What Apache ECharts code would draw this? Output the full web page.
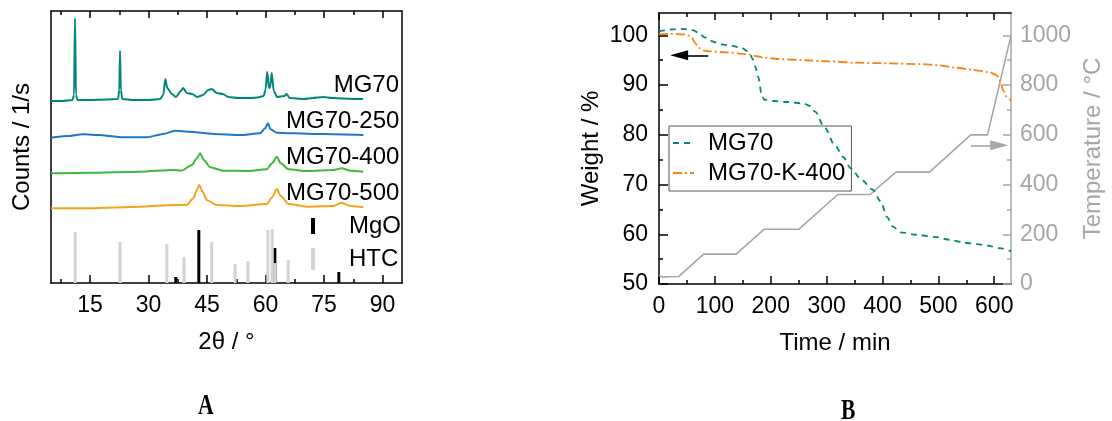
<!DOCTYPE html>
<html><head><meta charset="utf-8">
<script src="https://cdn.jsdelivr.net/npm/echarts@6/dist/echarts.min.js"></script>
<style>html,body{margin:0;padding:0;background:#fff}#c{width:1112px;height:421px}</style>
</head><body><div id="c"></div>
<script>
const FONT = 'Liberation Sans, Arial, sans-serif';

// ---------- Panel A: XRD (2θ in °, counts in arbitrary offset units) ----------
const xrdLabels = ['MG70', 'MG70-250', 'MG70-400', 'MG70-500'];
const xrdColors = ['#00877a', '#1f77c6', '#3dba3d', '#f7a21b'];
const xrdMG70 = [[5,182],[8,182],[10.5,183],[10.9,188],[11.15,265],[11.4,188],[11.8,183],[15,183],[19,183.5],[22.2,184],[22.5,193],[22.7,232],[22.9,193],[23.3,184],[26,183],[30,183],[33,184],[33.8,188],[34.3,204],[34.8,195],[36,189],[37,186],[38.3,192],[38.9,195],[39.8,190],[41.2,189],[42.5,186],[44,188],[45.3,193],[46.2,194],[47.5,190],[49,189],[50.5,186],[53,185],[56,185],[58,185.5],[59.5,187],[60,193],[60.45,211],[60.9,195],[61.2,196],[61.6,210],[62.1,192],[63,186],[64.8,187],[65.4,189],[66.2,185],[70,184],[72,185],[74.8,186],[77,185],[80,184.5],[83,184],[85,184]];
const xrdMG70_250 = [[5,145.3],[9,147],[13.3,148.7],[17.6,148],[20,147],[23.5,145.7],[29.5,145.7],[33.8,149],[36.8,152.3],[40.6,151.3],[46.6,149],[53.5,148],[58.6,149.7],[59.9,154.7],[60.6,159.7],[61.3,153.7],[62.9,150.3],[67.1,149.7],[74.8,149],[85.1,148]];
const xrdMG70_400 = [[5,109.7],[15,110.3],[27.8,111.3],[36.4,113],[38.5,112.5],[41.1,118],[42.4,124.7],[43.2,129.7],[44.2,123],[45.8,115.7],[49.2,112.3],[55.2,112],[60.3,113.7],[61.7,119.7],[62.9,126.3],[63.9,119.7],[65.9,113.7],[70.6,112],[77.4,113],[79.5,114.7],[81.7,112.3],[85.1,111.3]];
const xrdMG70_500 = [[5,74.7],[15,74.7],[27.8,76.3],[36.4,78],[39.8,78],[41.5,84.7],[42.4,93],[43,98],[43.9,91.3],[44.9,83],[47.5,78],[53.5,77],[60.3,79],[61.7,85.7],[62.9,94],[63.9,87],[65.9,79],[70.6,76.3],[77.4,77],[79.5,80.3],[81.7,77],[85.1,75.7]];
const refMgO = [[37.0,6],[42.9,53],[62.4,35],[78.8,11]];
const refHTC = [[11.2,51],[22.7,41],[34.7,39],[39.1,26],[46.2,41],[52.2,19],[55.5,22],[60.6,53],[61.7,54],[62.4,20],[65.8,23]];
const xrdMajorTicks = [15,30,45,60,75,90];
const xrdMinorTicks = [7.5,22.5,37.5,52.5,67.5,82.5];

// ---------- Panel B: TGA ----------
const tgaMG70 = [[0,100.8],[10,101],[23,101.2],[40,101.3],[53,101.2],[62,101],[71,100.5],[82,99.6],[92,98.9],[112,98.2],[130,97.9],[148,97.5],[157,96.9],[163,96.2],[168,95.2],[172,93.8],[178,91.5],[183,88.5],[188,87.1],[205,86.8],[230,86.6],[259,86.3],[270,85.8],[280,84.6],[295,81.7],[316,77.7],[330,75.5],[343,73.3],[362,71],[382,69],[397,66.6],[408,63.5],[418,61.6],[433,60.4],[460,59.9],[498,59.4],[520,58.9],[546,58.3],[570,58],[588,57.7],[610,57.2],[630,56.6]];
const tgaMG70K400 = [[0,100.2],[20,100.3],[47,100.2],[55,99.9],[59,99.5],[65,98.4],[71,97.5],[80,97],[89,96.8],[120,96.6],[160,96.2],[175,95.8],[190,95.5],[220,95.2],[262,95],[300,94.8],[352,94.5],[400,94.4],[472,94.2],[500,94],[531,93.5],[560,93.1],[591,92.6],[603,92.1],[608,91.5],[612,90.3],[616,88.9],[622,87.7],[630,86.8]];
const tempProgram = [[0,36],[4,30],[8,27],[15,29],[35,30],[80,120],[138,120],[188,220],[250,220],[320,360],[378,360],[424,450],[484,450],[558,600],[588,600],[630,1000]];
const weightArrow = [[88,96],[36,96]];
const tempArrow = [[558,558],[609,558]];
const timeMajorTicks = [0,100,200,300,400,500,600];
const timeMinorTicks = [50,150,250,350,450,550];
const weightMajorTicks = [50,60,70,80,90,100];
const weightMinorTicks = [55,65,75,85,95];
const tempMajorTicks = [0,200,400,600,800,1000];
const tempMinorTicks = [100,300,500,700,900];

const BLACK = '#000';
const GREY = '#a6a6a6';

function axis(o) {
  const base = {
    type: 'value', splitLine: {show: false},
    axisLine: {show: false, onZero: false},
    axisTick: {show: false},
    axisLabel: {show: false}
  };
  return Object.assign(base, o);
}
function line(color) { return {show: true, onZero: false, lineStyle: {color: color, width: 1.5}}; }
function ticks(vals, len, color) { return {show: true, inside: true, length: len, customValues: vals, lineStyle: {color: color, width: 1.5}}; }
function labels(vals, color, margin) { return {show: true, customValues: vals, color: color, fontSize: 23, fontFamily: FONT, margin: margin, formatter: function (v) { return String(v); }}; }

const xAxes = [
  axis({gridIndex: 0, min: 5, max: 95, position: 'bottom', axisLine: line(BLACK), axisTick: ticks(xrdMajorTicks, 8, BLACK), axisLabel: labels(xrdMajorTicks, BLACK, 11),
        name: '2θ / °', nameLocation: 'middle', nameGap: 47, nameTextStyle: {fontSize: 24, color: BLACK, fontFamily: FONT}}),
  axis({gridIndex: 0, min: 5, max: 95, position: 'bottom', axisTick: ticks(xrdMinorTicks, 4, BLACK)}),
  axis({gridIndex: 0, min: 5, max: 95, position: 'top', axisLine: line(BLACK), axisTick: ticks(xrdMajorTicks, 7, BLACK)}),
  axis({gridIndex: 0, min: 5, max: 95, position: 'top', axisTick: ticks(xrdMinorTicks, 4, BLACK)}),
  axis({gridIndex: 1, min: 0, max: 630, position: 'bottom', axisLine: line(BLACK), axisTick: ticks(timeMajorTicks, 8, BLACK), axisLabel: labels(timeMajorTicks, BLACK, 11),
        name: 'Time / min', nameLocation: 'middle', nameGap: 47, nameTextStyle: {fontSize: 24, color: BLACK, fontFamily: FONT}}),
  axis({gridIndex: 1, min: 0, max: 630, position: 'bottom', axisTick: ticks(timeMinorTicks, 4, BLACK)}),
  axis({gridIndex: 1, min: 0, max: 630, position: 'top', axisLine: line(BLACK), axisTick: ticks(timeMajorTicks, 7, BLACK)}),
  axis({gridIndex: 1, min: 0, max: 630, position: 'top', axisTick: ticks(timeMinorTicks, 4, BLACK)})
];
const yAxes = [
  axis({gridIndex: 0, min: 0, max: 272, position: 'left', axisLine: line(BLACK),
        name: 'Counts / 1/s', nameLocation: 'middle', nameGap: 17, nameTextStyle: {fontSize: 24, color: BLACK, fontFamily: FONT}}),
  axis({gridIndex: 0, min: 0, max: 272, position: 'right', axisLine: line(BLACK)}),
  axis({gridIndex: 1, min: 50, max: 104.5, position: 'left', axisLine: line(BLACK), axisTick: ticks(weightMajorTicks, 9, BLACK), axisLabel: labels(weightMajorTicks, BLACK, 11),
        name: 'Weight / %', nameLocation: 'middle', nameGap: 56, nameTextStyle: {fontSize: 24, color: BLACK, fontFamily: FONT}}),
  axis({gridIndex: 1, min: 50, max: 104.5, position: 'left', axisTick: ticks(weightMinorTicks, 4, BLACK)}),
  axis({gridIndex: 1, min: 0, max: 1090, position: 'right', axisLine: line(GREY), axisTick: ticks(tempMajorTicks, 8, GREY), axisLabel: labels(tempMajorTicks, GREY, 9),
        name: 'Temperature / °C', nameLocation: 'middle', nameGap: 70, nameTextStyle: {fontSize: 24, color: GREY, fontFamily: FONT}}),
  axis({gridIndex: 1, min: 0, max: 1090, position: 'right', axisTick: ticks(tempMinorTicks, 4, GREY)})
];

const xrdData = [xrdMG70, xrdMG70_250, xrdMG70_400, xrdMG70_500];
const series = [];
xrdData.forEach(function (d, i) {
  const last = d[d.length - 1];
  series.push({
    name: 'XRD ' + xrdLabels[i], type: 'line', xAxisIndex: 0, yAxisIndex: 0,
    data: d, symbol: 'none', smooth: 0.25, smoothMonotone: 'x',
    lineStyle: {color: xrdColors[i], width: 2}, itemStyle: {color: xrdColors[i]},
    markPoint: {
      silent: true, animation: false, symbol: 'circle', symbolSize: 1,
      itemStyle: {color: 'rgba(0,0,0,0)'},
      label: {show: true, formatter: function () { return xrdLabels[i]; }, position: 'inside', align: 'right', verticalAlign: 'middle',
              offset: [36, -14], color: BLACK, fontSize: 24, fontFamily: FONT},
      data: [{coord: last}]
    }
  });
});
series.push({name: 'MgO', type: 'bar', xAxisIndex: 0, yAxisIndex: 0, barWidth: 3, barGap: '-100%', data: refMgO, itemStyle: {color: '#000'}});
series.push({name: 'HTC', type: 'bar', xAxisIndex: 0, yAxisIndex: 0, barWidth: 3, barGap: '-100%', data: refHTC, itemStyle: {color: '#d3d3d3'}});

series.push({
  name: 'Temperature', type: 'line', xAxisIndex: 4, yAxisIndex: 4, data: tempProgram, symbol: 'none',
  lineStyle: {color: GREY, width: 1.6}, itemStyle: {color: GREY},
  markLine: {silent: true, animation: false, symbol: ['none', 'triangle'], symbolSize: [10, 18], label: {show: false},
    lineStyle: {color: GREY, type: 'solid', width: 1.6}, itemStyle: {color: GREY},
    data: [[{coord: tempArrow[0]}, {coord: tempArrow[1]}]]}
});
series.push({
  name: 'MG70', type: 'line', xAxisIndex: 4, yAxisIndex: 2, data: tgaMG70, symbol: 'none', smooth: 0.3, smoothMonotone: 'x',
  lineStyle: {color: '#00877a', width: 1.8, type: [6, 5]}, itemStyle: {color: '#00877a'},
  markLine: {silent: true, animation: false, symbol: ['none', 'triangle'], symbolSize: [10, 18], label: {show: false},
    lineStyle: {color: '#000', type: 'solid', width: 1.6}, itemStyle: {color: '#000'},
    data: [[{coord: weightArrow[0]}, {coord: weightArrow[1]}]]}
});
series.push({
  name: 'MG70-K-400', type: 'line', xAxisIndex: 4, yAxisIndex: 2, data: tgaMG70K400, symbol: 'none', smooth: 0.3, smoothMonotone: 'x',
  lineStyle: {color: '#ff7f0e', width: 1.8, type: [9, 3, 2, 3]}, itemStyle: {color: '#ff7f0e'}
});

const option = {
  animation: false,
  backgroundColor: '#fff',
  textStyle: {fontFamily: FONT},
  grid: [
    {left: 51, top: 11, width: 351, height: 272, outerBoundsMode: 'none'},
    {left: 659, top: 13, width: 352, height: 271, outerBoundsMode: 'none'}
  ],
  xAxis: xAxes,
  yAxis: yAxes,
  legend: [
    {data: ['MgO'], left: 311, top: 214, orient: 'vertical', padding: 0, itemWidth: 4, itemHeight: 16, icon: 'rect', selectedMode: false,
     textStyle: {fontSize: 24, color: BLACK, fontFamily: FONT, padding: [0, 0, 0, 29]}},
    {data: ['HTC'], left: 311, top: 247, orient: 'vertical', padding: 0, itemWidth: 4, itemHeight: 22, icon: 'rect', selectedMode: false,
     textStyle: {fontSize: 24, color: BLACK, fontFamily: FONT, padding: [0, 0, 0, 29]}},
    {data: ['MG70', 'MG70-K-400'], left: 669, top: 126, orient: 'vertical', padding: [5, 6, 6, 3], itemGap: 6, itemWidth: 21, itemHeight: 14,
     borderColor: '#555', borderWidth: 1, selectedMode: false, itemStyle: {opacity: 0},
     textStyle: {fontSize: 24, color: BLACK, fontFamily: FONT, padding: [0, 0, 0, 9]}}
  ],
  graphic: [
    {type: 'text', x: 198, y: 391, scaleX: 0.72, style: {text: 'A', font: 'bold 30px "Liberation Serif", serif', fill: '#000'}},
    {type: 'text', x: 841, y: 396, scaleX: 0.72, style: {text: 'B', font: 'bold 30px "Liberation Serif", serif', fill: '#000'}}
  ],
  series: series
};
const chart = echarts.init(document.getElementById('c'), null, {renderer: 'canvas'});
chart.setOption(option);
</script></body></html>
